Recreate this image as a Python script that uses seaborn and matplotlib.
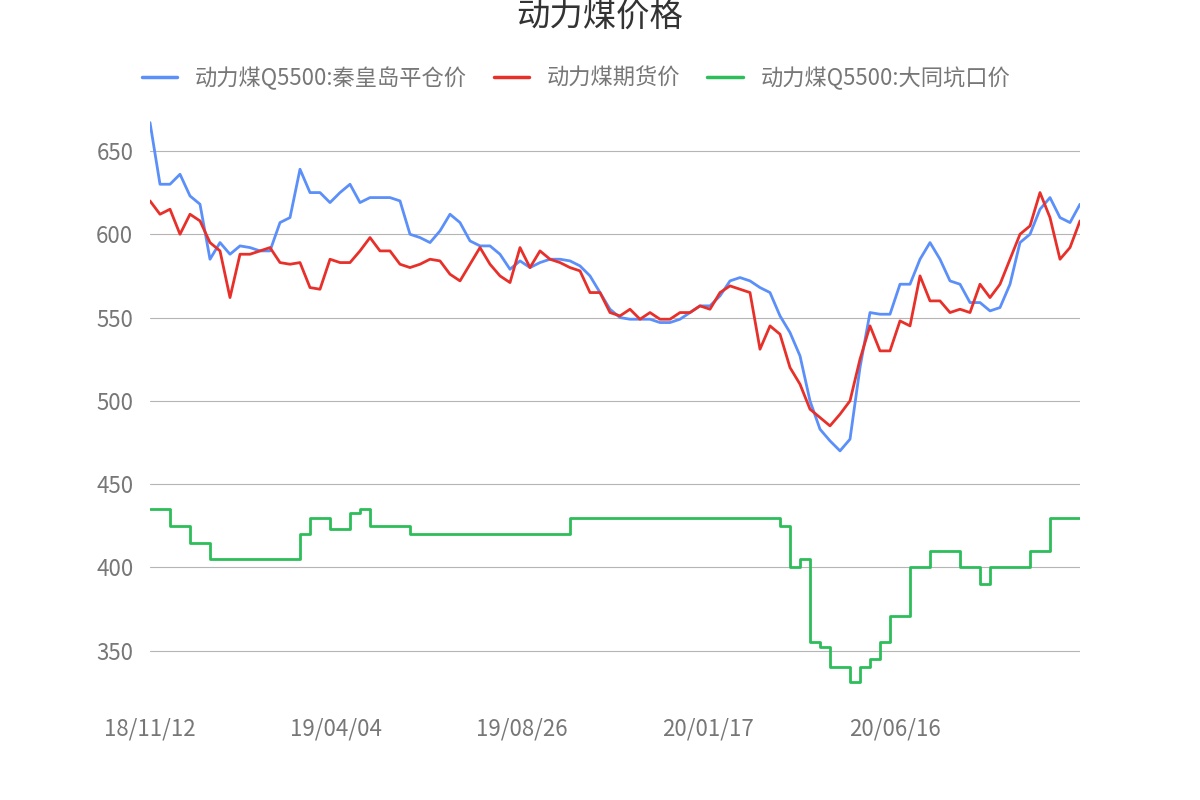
import numpy as np
import pandas as pd
import matplotlib
matplotlib.use("Agg")
import matplotlib.pyplot as plt
import seaborn as sns

tick_labels = ["18/11/12", "19/04/04", "19/08/26", "20/01/17", "20/06/16"]
tick_pos = [0, 18.6, 37.2, 55.8, 74.5]

qhd = [667, 630, 630, 636, 623, 618, 585, 595, 588, 593, 592, 590, 590, 607, 610, 639, 625, 625, 619, 625,
       630, 619, 622, 622, 622, 620, 600, 598, 595, 602, 612, 607, 596, 593, 593, 588, 579, 584, 580, 583,
       585, 585, 584, 581, 575, 565, 555, 550, 549, 549, 549, 547, 547, 549, 553, 557, 557, 563, 572, 574,
       572, 568, 565, 551, 541, 527, 500, 483, 476, 470, 477, 520, 553, 552, 552, 570, 570, 585, 595, 585,
       572, 570, 559, 559, 554, 556, 570, 595, 600, 615, 622, 610, 607, 618]
futures = [620, 612, 615, 600, 612, 608, 595, 590, 562, 588, 588, 590, 592, 583, 582, 583, 568, 567, 585, 583,
           583, 590, 598, 590, 590, 582, 580, 582, 585, 584, 576, 572, 582, 592, 582, 575, 571, 592, 580, 590,
           585, 583, 580, 578, 565, 565, 553, 551, 555, 549, 553, 549, 549, 553, 553, 557, 555, 565, 569, 567,
           565, 531, 545, 540, 520, 510, 495, 490, 485, 492, 500, 525, 545, 530, 530, 548, 545, 575, 560, 560,
           553, 555, 553, 570, 562, 570, 585, 600, 605, 625, 610, 585, 592, 608]
datong = ([435, 435, 425, 425, 415, 415] + [405] * 9 + [420, 430, 430, 423, 423, 433, 435] + [425] * 4
          + [420] * 16 + [430] * 21 + [425, 400, 405, 355, 352, 340, 340, 331, 340, 345, 355, 371, 371,
          400, 400, 410, 410, 410, 400, 400, 390, 400, 400, 400, 400, 410, 410, 430, 430, 430, 430])

names = ["动力煤Q5500:秦皇岛平仓价", "动力煤期货价", "动力煤Q5500:大同坑口价"]
colors = ["#5b8ff9", "#e8302a", "#2dbd5a"]
idx = np.arange(len(qhd))

sns.set_theme(style="white")
plt.rcParams["font.family"] = ["Noto Sans CJK SC", "DejaVu Sans"]

fig = plt.figure(figsize=(12, 8), dpi=100)
ax = fig.add_axes([0.125, 0.124, 0.775, 0.729])
sns.lineplot(x=idx, y=qhd, color=colors[0], linewidth=2, ax=ax)
sns.lineplot(x=idx, y=futures, color=colors[1], linewidth=2, ax=ax)
sns.lineplot(x=idx, y=datong, color=colors[2], linewidth=2, ax=ax, drawstyle="steps-post")
ax.set_xlim(0, len(qhd) - 1)
ax.set_ylim(320, 670)
ax.set_yticks([350, 400, 450, 500, 550, 600, 650])
ax.yaxis.grid(True, color="#b5b5b5", linewidth=0.8)
ax.set_axisbelow(True)
for s in ax.spines.values():
    s.set_visible(False)
ax.set_xticks(tick_pos)
ax.set_xticklabels(tick_labels)
ax.tick_params(axis="both", labelsize=16, colors="#777777", length=0)
ax.tick_params(axis="y", pad=12)
ax.tick_params(axis="x", pad=12)
ax.set_xlabel("")
ax.set_ylabel("")

handles = [plt.Line2D([], [], color=c, linewidth=2.5) for c in colors]
fig.legend(handles, names, loc="center", bbox_to_anchor=(0.48, 0.902), ncol=3, frameon=False,
           fontsize=16, labelcolor="#777777", handlelength=1.6, columnspacing=1.2)
fig.text(0.5, 0.978, "动力煤价格", ha="center", va="center", fontsize=24, color="#333333")
fig.savefig("out.png", dpi=100)
